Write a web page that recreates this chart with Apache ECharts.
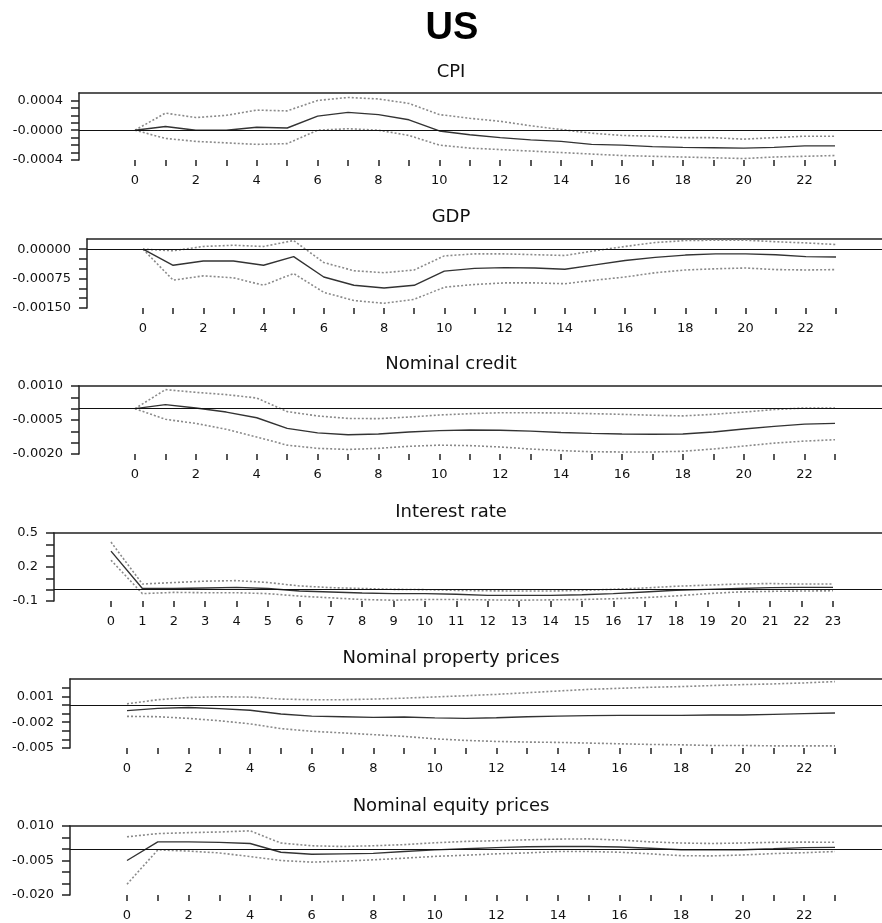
<!DOCTYPE html>
<html>
<head>
<meta charset="utf-8">
<title>US</title>
<script src="https://cdn.jsdelivr.net/npm/echarts@6/dist/echarts.min.js"></script>
<style>
  html, body { margin: 0; padding: 0; background: #fff; }
  #chart { width: 882px; height: 923px; }
</style>
</head>
<body>
<div id="chart"></div>
<script>
// horizon (quarters)
const periods = [0, 1, 2, 3, 4, 5, 6, 7, 8, 9, 10, 11, 12, 13, 14, 15, 16, 17, 18, 19, 20, 21, 22, 23];

// CPI
const cpiMid = [0, 0.00005, 0, 0, 0.00004, 0.00003, 0.00019, 0.00024, 0.00021, 0.00014, -0.00001, -0.00006, -0.0001, -0.00013, -0.00015, -0.00019, -0.0002, -0.00022, -0.00023, -0.000235, -0.00024, -0.00023, -0.00021, -0.00021];
const cpiUp = [0, 0.00023, 0.00017, 0.0002, 0.00027, 0.00026, 0.0004, 0.00044, 0.00042, 0.00036, 0.00021, 0.00016, 0.00012, 0.00006, 0.00001, -0.00004, -0.00007, -0.00008, -0.0001, -0.0001, -0.00012, -0.0001, -0.00008, -0.00008];
const cpiLow = [0, -0.00011, -0.00015, -0.00017, -0.00019, -0.00018, 0, 0.00002, 0, -0.00007, -0.0002, -0.00024, -0.00026, -0.00028, -0.0003, -0.00032, -0.00034, -0.00035, -0.00036, -0.00037, -0.00038, -0.00036, -0.00035, -0.00034];
const cpiTicks = [-0.0004, -0.0003, -0.0002, -0.0001, 0, 0.0001, 0.0002, 0.0003, 0.0004];
const cpiLabels = [-0.0004, 0, 0.0004];
const cpiLabelText = ['-0.0004', '-0.0000', '0.0004'];

// GDP
const gdpMid = [0, -0.00041, -0.0003, -0.0003, -0.00041, -0.00019, -0.00071, -0.00092, -0.00099, -0.00092, -0.00056, -0.00049, -0.00047, -0.00048, -0.00051, -0.0004, -0.00029, -0.00021, -0.00015, -0.00012, -0.00012, -0.00014, -0.00019, -0.0002];
const gdpUp = [0, -0.00004, 0.00007, 0.0001, 0.00007, 0.00022, -0.00034, -0.00055, -0.0006, -0.00053, -0.00017, -0.00012, -0.00012, -0.00014, -0.00016, -0.00004, 0.00007, 0.00017, 0.00022, 0.00023, 0.00023, 0.00019, 0.00016, 0.00012];
const gdpLow = [0, -0.00079, -0.00068, -0.00073, -0.00092, -0.00062, -0.0011, -0.00131, -0.00138, -0.00128, -0.00097, -0.0009, -0.00086, -0.00086, -0.00088, -0.00079, -0.00071, -0.0006, -0.00053, -0.0005, -0.00048, -0.00052, -0.00053, -0.00052];
const gdpTicks = [-0.0015, -0.00125, -0.001, -0.00075, -0.0005, -0.00025, 0];
const gdpLabels = [-0.0015, -0.00075, 0];
const gdpLabelText = ['-0.00150', '-0.00075', '0.00000'];

// Nominal credit
const creditMid = [0, 0.00018, 0.00003, -0.00015, -0.0004, -0.00087, -0.00107, -0.00115, -0.00112, -0.00103, -0.00097, -0.00094, -0.00095, -0.00099, -0.00105, -0.00109, -0.00112, -0.00113, -0.00112, -0.00103, -0.0009, -0.00078, -0.00068, -0.00065];
const creditUp = [0, 0.00084, 0.00072, 0.00062, 0.00047, -0.00013, -0.00032, -0.00043, -0.00044, -0.00037, -0.00028, -0.00022, -0.00018, -0.00018, -0.00019, -0.00022, -0.00025, -0.00029, -0.00032, -0.00025, -0.00015, -0.00004, 0.00003, 0.00003];
const creditLow = [0, -0.00047, -0.00065, -0.00091, -0.00125, -0.00161, -0.00175, -0.0018, -0.00175, -0.00166, -0.00161, -0.00163, -0.00169, -0.00178, -0.00185, -0.0019, -0.00191, -0.00191, -0.00188, -0.00178, -0.00165, -0.00152, -0.00143, -0.00137];
const creditTicks = [-0.002, -0.0015, -0.001, -0.0005, 0, 0.0005, 0.001];
const creditLabels = [-0.002, -0.0005, 0.001];
const creditLabelText = ['-0.0020', '-0.0005', '0.0010'];

// Interest rate
const rateMid = [0.34, 0.01, 0.01, 0.015, 0.02, 0.01, -0.012, -0.02, -0.03, -0.035, -0.035, -0.04, -0.05, -0.05, -0.05, -0.045, -0.035, -0.02, -0.005, 0.003, 0.01, 0.018, 0.02, 0.02];
const rateUp = [0.42, 0.05, 0.063, 0.075, 0.08, 0.063, 0.033, 0.018, 0.01, 0.003, 0, -0.006, -0.01, -0.012, -0.012, -0.006, 0.003, 0.015, 0.03, 0.04, 0.05, 0.054, 0.05, 0.05];
const rateLow = [0.26, -0.035, -0.024, -0.027, -0.027, -0.035, -0.057, -0.072, -0.087, -0.093, -0.087, -0.087, -0.09, -0.093, -0.09, -0.087, -0.08, -0.07, -0.055, -0.035, -0.02, -0.015, -0.012, -0.01];
const rateTicks = [-0.1, 0, 0.1, 0.2, 0.3, 0.4, 0.5];
const rateLabels = [-0.1, 0.2, 0.5];
const rateLabelText = ['-0.1', '0.2', '0.5'];

// Nominal property prices
const propMid = [-0.00067, -0.0004, -0.0003, -0.00043, -0.00063, -0.00106, -0.0013, -0.00137, -0.00145, -0.00141, -0.00151, -0.00157, -0.00149, -0.00137, -0.0013, -0.00125, -0.00122, -0.00122, -0.00122, -0.00118, -0.00118, -0.0011, -0.00102, -0.00094];
const propUp = [0.00012, 0.0006, 0.00086, 0.00094, 0.0009, 0.00067, 0.0006, 0.0006, 0.00067, 0.00078, 0.00092, 0.00106, 0.00122, 0.00141, 0.00161, 0.0018, 0.00192, 0.00204, 0.00212, 0.00224, 0.00235, 0.00243, 0.00255, 0.0027];
const propLow = [-0.00133, -0.00137, -0.00157, -0.00184, -0.0022, -0.00275, -0.00306, -0.00325, -0.00345, -0.00365, -0.00394, -0.00412, -0.00424, -0.00431, -0.00435, -0.00443, -0.00451, -0.00459, -0.00463, -0.00471, -0.00471, -0.00475, -0.00475, -0.00475];
const propTicks = [-0.005, -0.004, -0.003, -0.002, -0.001, 0, 0.001, 0.002];
const propLabels = [-0.005, -0.002, 0.001];
const propLabelText = ['-0.005', '-0.002', '0.001'];

// Nominal equity prices
const eqMid = [-0.005, 0.0031, 0.0031, 0.0029, 0.0024, -0.0014, -0.0023, -0.0021, -0.0019, -0.0011, -0.0004, 0.0001, 0.0006, 0.001, 0.0011, 0.0011, 0.0009, 0.0003, -0.0003, -0.0004, -0.0003, 0.0001, 0.0006, 0.0007];
const eqUp = [0.0053, 0.0067, 0.0071, 0.0074, 0.0079, 0.0026, 0.0014, 0.0011, 0.0014, 0.0019, 0.0027, 0.0033, 0.0036, 0.004, 0.0043, 0.0044, 0.0039, 0.0031, 0.0026, 0.0024, 0.0026, 0.0029, 0.003, 0.0029];
const eqLow = [-0.0153, -0.0004, -0.0009, -0.0017, -0.0033, -0.005, -0.0057, -0.0053, -0.0047, -0.004, -0.0032, -0.0027, -0.0021, -0.0017, -0.0011, -0.0011, -0.0014, -0.0021, -0.0029, -0.003, -0.0026, -0.002, -0.0016, -0.0011];
const eqTicks = [-0.02, -0.015, -0.01, -0.005, 0, 0.005, 0.01];
const eqLabels = [-0.02, -0.005, 0.01];
const eqLabelText = ['-0.020', '-0.005', '0.010'];

const evenPeriods = periods.filter(function (t) { return t % 2 === 0; });

// layout of each panel (pixels) + its data
const panels = [
  { title: 'CPI', mid: cpiMid, up: cpiUp, low: cpiLow, ticks: cpiTicks, labels: cpiLabels, labelText: cpiLabelText,
    yMin: -0.0004, yMax: 0.0005, top: 93, height: 67, axisX: 79, x0: 135, x23: 835, titleY: 58 },
  { title: 'GDP', mid: gdpMid, up: gdpUp, low: gdpLow, ticks: gdpTicks, labels: gdpLabels, labelText: gdpLabelText,
    yMin: -0.0015, yMax: 0.00026, top: 239, height: 69, axisX: 87, x0: 143, x23: 836, titleY: 203 },
  { title: 'Nominal credit', mid: creditMid, up: creditUp, low: creditLow, ticks: creditTicks, labels: creditLabels, labelText: creditLabelText,
    yMin: -0.002, yMax: 0.001, top: 386, height: 68, axisX: 79, x0: 135, x23: 835, titleY: 350 },
  { title: 'Interest rate', mid: rateMid, up: rateUp, low: rateLow, ticks: rateTicks, labels: rateLabels, labelText: rateLabelText,
    yMin: -0.1, yMax: 0.5, top: 533, height: 68, axisX: 54, x0: 111, x23: 833, titleY: 498, allLabels: true },
  { title: 'Nominal property prices', mid: propMid, up: propUp, low: propLow, ticks: propTicks, labels: propLabels, labelText: propLabelText,
    yMin: -0.005, yMax: 0.003, top: 679, height: 69, axisX: 70, x0: 127, x23: 835, titleY: 644 },
  { title: 'Nominal equity prices', mid: eqMid, up: eqUp, low: eqLow, ticks: eqTicks, labels: eqLabels, labelText: eqLabelText,
    yMin: -0.02, yMax: 0.01, top: 826, height: 69, axisX: 70, x0: 127, x23: 835, titleY: 792 }
];

const W = 882;
const font = 'DejaVu Sans';
const textColor = '#111';

const titles = [{
  text: 'US', left: 447, top: 5, textAlign: 'center',
  textStyle: { fontFamily: 'Liberation Sans', fontWeight: 'bold', fontSize: 38, color: '#000' }
}];
const grids = [];
const xAxes = [];
const yAxes = [];
const series = [];

panels.forEach(function (p, i) {
  const unit = (p.x23 - p.x0) / 23;
  const xMin = -(p.x0 - p.axisX) / unit;
  const xMax = 23 + (W - p.x23) / unit;

  titles.push({
    text: p.title, left: 446, top: p.titleY, textAlign: 'center',
    textStyle: { fontFamily: font, fontWeight: 'normal', fontSize: 18, color: textColor }
  });
  grids.push({ left: p.axisX, right: 0, top: p.top, height: p.height });

  // bottom axis: ticks + labels only
  xAxes.push({
    type: 'value', gridIndex: i, position: 'bottom', min: xMin, max: xMax,
    axisLine: { show: false, onZero: false },
    axisTick: { show: true, length: 6, customValues: periods, lineStyle: { color: '#222', width: 1.5 } },
    axisLabel: {
      customValues: p.allLabels ? periods : evenPeriods, margin: 14,
      fontFamily: font, fontSize: 13, color: textColor
    },
    splitLine: { show: false }
  });
  // top frame line
  xAxes.push({
    type: 'value', gridIndex: i, position: 'top', min: xMin, max: xMax,
    axisLine: { show: true, onZero: false, lineStyle: { color: '#222', width: 1.5 } },
    axisTick: { show: false }, axisLabel: { show: false }, splitLine: { show: false }
  });

  yAxes.push({
    type: 'value', gridIndex: i, min: p.yMin, max: p.yMax,
    axisLine: { show: true, onZero: false, lineStyle: { color: '#222', width: 1.5 } },
    axisTick: { show: true, length: 8, customValues: p.ticks, lineStyle: { color: '#222', width: 1.5 } },
    axisLabel: {
      customValues: p.labels, margin: 16, fontFamily: font, fontSize: 13, color: textColor,
      formatter: function (v) {
        for (let k = 0; k < p.labels.length; k++) {
          if (Math.abs(p.labels[k] - v) < 1e-12) return p.labelText[k];
        }
        return '';
      }
    },
    splitLine: { show: false }
  });

  const toPts = function (arr) { return periods.map(function (t, k) { return [t, arr[k]]; }); };
  const xIdx = i * 2;

  series.push({
    type: 'line', xAxisIndex: xIdx, yAxisIndex: i, data: toPts(p.up),
    showSymbol: false, silent: true,
    lineStyle: { color: '#8a8a8a', width: 1.6, type: [2, 2] }
  });
  series.push({
    type: 'line', xAxisIndex: xIdx, yAxisIndex: i, data: toPts(p.low),
    showSymbol: false, silent: true,
    lineStyle: { color: '#8a8a8a', width: 1.6, type: [2, 2] }
  });
  series.push({
    type: 'line', xAxisIndex: xIdx, yAxisIndex: i, data: toPts(p.mid),
    showSymbol: false, silent: true,
    lineStyle: { color: '#333', width: 1.4 },
    markLine: {
      silent: true, symbol: 'none', label: { show: false },
      lineStyle: { color: '#111', width: 1.2, type: 'solid' },
      data: [{ yAxis: 0 }]
    }
  });
});

const chart = echarts.init(document.getElementById('chart'));
chart.setOption({
  animation: false,
  backgroundColor: '#fff',
  title: titles,
  grid: grids,
  xAxis: xAxes,
  yAxis: yAxes,
  series: series
});
</script>
</body>
</html>
